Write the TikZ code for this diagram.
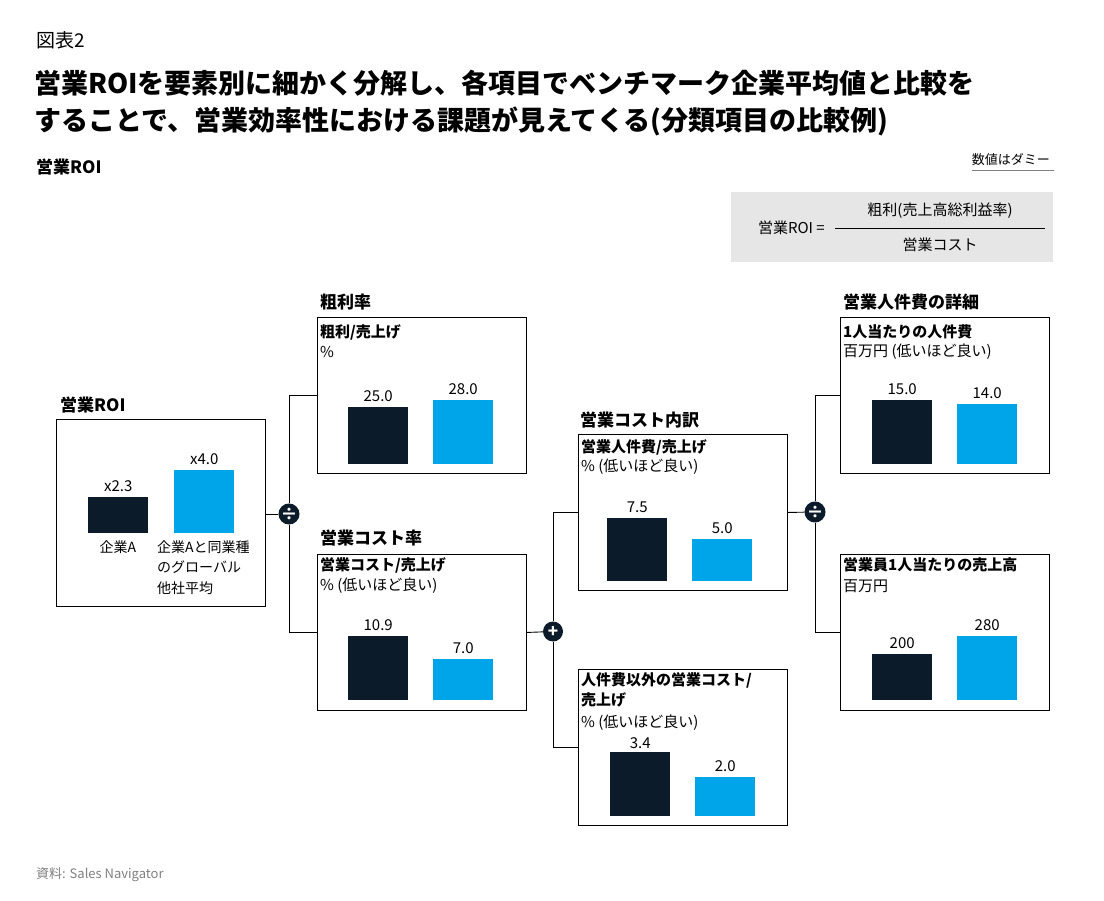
\documentclass[tikz,border=0pt]{standalone}
\usepackage{fontspec}
\setmainfont{Noto Sans CJK JP}
\usetikzlibrary{positioning}
\definecolor{navy}{HTML}{0C1B2A}
\definecolor{sky}{HTML}{00A4E9}
\definecolor{panel}{HTML}{E6E6E6}

\tikzset{
  box/.style = {draw = black, line width = .9pt, anchor = north west,
    minimum width = 209pt, minimum height = 156pt},
  bar/.style = {anchor = south west, minimum width = 60pt, inner sep = 0pt},
  txt/.style = {anchor = west, inner sep = 0pt, font = \fontsize{15}{18}\selectfont},
  head/.style = {txt, font = \fontsize{17}{20}\selectfont\bfseries},
  val/.style = {anchor = south, inner sep = 0pt, font = \fontsize{15}{18}\selectfont},
  op/.style = {circle, fill = navy, text = white, minimum size = 20pt, inner sep = 0pt,
    font = \fontsize{17}{17}\selectfont\bfseries},
  link/.style = {line width = .9pt}
}

\begin{document}
\begin{tikzpicture}[x = 1pt, y = -1pt]
  \useasboundingbox (0,0) rectangle (1104,901);

  % Heading
  \node[txt, font = \fontsize{19}{22}\selectfont] (fig) at (36,40) {図表2};
  \node[txt, font = \fontsize{27}{37}\selectfont\bfseries, align = left, anchor = north west] (title) at (34,70)
    {営業ROIを要素別に細かく分解し、各項目でベンチマーク企業平均値と比較を\\
     することで、営業効率性における課題が見えてくる(分類項目の比較例)};
  \node[head] (sub) at (36,167) {営業ROI};
  \node[txt, anchor = east, font = \fontsize{13}{15}\selectfont] (dummy) at (1050,160) {数値はダミー};
  \draw[gray, line width = .6pt] (dummy.south west) ++(0,4) -- ++(82,0);
  \node[txt, text = gray, font = \fontsize{13}{15}\selectfont] (src) at (36,875) {資料: Sales Navigator};

  % Formula
  \fill[panel] (731,192) rectangle (1053,262);
  \node[txt, anchor = east] (flhs) at (825,228) {営業ROI =};
  \node[txt, anchor = center] (fnum) at (940,211) {粗利(売上高総利益率)};
  \node[txt, anchor = center] (fden) at (940,245) {営業コスト};
  \draw[link] (835,228) -- (1045,228);

  % Boxes
  \node[box, minimum height = 187pt] (roi) at (56,419) {};
  \node[box] (gm) at (317,317) {};
  \node[box] (cr) at (317,554) {};
  \node[box] (cb) at (578,434) {};
  \node[box] (ob) at (578,669) {};
  \node[box] (pp) at (840,317) {};
  \node[box] (sp) at (840,554) {};

  % Box titles
  \node[head] at (60,405) {営業ROI};
  \node[head] at (320,302) {粗利率};
  \node[head] at (320,538) {営業コスト率};
  \node[head] at (580,420) {営業コスト内訳};
  \node[head] at (843,302) {営業人件費の詳細};

  % Box texts
  \node[txt, font = \fontsize{15}{18}\selectfont\bfseries] at (320,332) {粗利/売上げ};
  \node[txt] at (320,352) {\%};
  \node[txt, font = \fontsize{15}{18}\selectfont\bfseries] at (320,565) {営業コスト/売上げ};
  \node[txt] at (320,586) {\% (低いほど良い)};
  \node[txt, font = \fontsize{15}{18}\selectfont\bfseries] at (581,447) {営業人件費/売上げ};
  \node[txt] at (581,467) {\% (低いほど良い)};
  \node[txt, font = \fontsize{15}{20.5}\selectfont\bfseries, align = left, anchor = north west] at (581,672)
    {人件費以外の営業コスト/\\売上げ};
  \node[txt] at (581,723) {\% (低いほど良い)};
  \node[txt, font = \fontsize{15}{18}\selectfont\bfseries] at (843,332) {1人当たりの人件費};
  \node[txt] at (843,352) {百万円 (低いほど良い)};
  \node[txt, font = \fontsize{15}{18}\selectfont\bfseries] at (843,565) {営業員1人当たりの売上高};
  \node[txt] at (843,586) {百万円};

  % Bars
  \node[bar, fill = navy, minimum height = 36pt] (roiA) at (88,533) {};
  \node[bar, fill = sky,  minimum height = 63pt] (roiB) at (174,533) {};
  \node[bar, fill = navy, minimum height = 57pt] (gmA) at (348,464) {};
  \node[bar, fill = sky,  minimum height = 64pt] (gmB) at (433,464) {};
  \node[bar, fill = navy, minimum height = 64pt] (crA) at (348,700) {};
  \node[bar, fill = sky,  minimum height = 41pt] (crB) at (433,700) {};
  \node[bar, fill = navy, minimum height = 63pt] (cbA) at (607,581) {};
  \node[bar, fill = sky,  minimum height = 42pt] (cbB) at (692,581) {};
  \node[bar, fill = navy, minimum height = 64pt] (obA) at (610,816) {};
  \node[bar, fill = sky,  minimum height = 39pt] (obB) at (695,816) {};
  \node[bar, fill = navy, minimum height = 64pt] (ppA) at (872,464) {};
  \node[bar, fill = sky,  minimum height = 60pt] (ppB) at (957,464) {};
  \node[bar, fill = navy, minimum height = 46pt] (spA) at (872,700) {};
  \node[bar, fill = sky,  minimum height = 64pt] (spB) at (957,700) {};

  % Values
  \node[val, above = 5pt of roiA] {x2.3};
  \node[val, above = 5pt of roiB] {x4.0};
  \node[val, above = 5pt of gmA] {25.0};
  \node[val, above = 5pt of gmB] {28.0};
  \node[val, above = 5pt of crA] {10.9};
  \node[val, above = 5pt of crB] {7.0};
  \node[val, above = 5pt of cbA] {7.5};
  \node[val, above = 5pt of cbB] {5.0};
  \node[val, above = 3pt of obA] {3.4};
  \node[val, above = 5pt of obB] {2.0};
  \node[val, above = 5pt of ppA] {15.0};
  \node[val, above = 5pt of ppB] {14.0};
  \node[val, above = 5pt of spA] {200};
  \node[val, above = 5pt of spB] {280};

  % Legend under ROI bars
  \node[txt, anchor = north, font = \fontsize{14}{20.5}\selectfont] at (118,540) {企業A};
  \node[txt, anchor = north west, align = left, font = \fontsize{14}{20.5}\selectfont] at (157,540)
    {企業Aと同業種\\のグローバル\\他社平均};

  % Operators and connectors
  \node[op] (div1) at (289,514) {÷};
  \node[op] (plus) at (553,631.5) {+};
  \node[op] (div2) at (815,512) {÷};
  \draw[link] (roi.east |- div1) -- (div1);
  \draw[link] (gm.west) -| (div1) |- (cr.west);
  \draw[link] (cr.east) -- (plus);
  \draw[link] (cb.west) -| (plus) |- (ob.west);
  \draw[link] (cb.east) -- (div2);
  \draw[link] (pp.west) -| (div2) |- (sp.west);
\end{tikzpicture}
\end{document}
